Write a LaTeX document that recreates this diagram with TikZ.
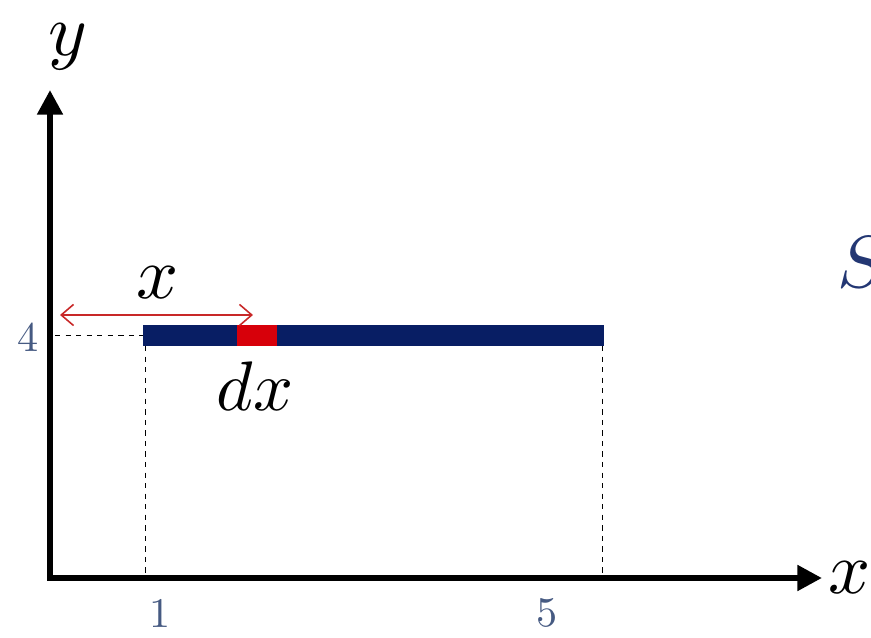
\documentclass[tikz,border=0pt]{standalone}
\usepackage{tikz}
\usetikzlibrary{arrows.meta,calc,positioning}
\definecolor{barblue}{RGB}{8,30,100}
\definecolor{barred}{RGB}{215,0,10}
\definecolor{arrred}{RGB}{200,40,40}
\definecolor{tickblue}{RGB}{70,90,130}
\definecolor{sblue}{RGB}{35,55,115}
\begin{document}
\begin{tikzpicture}

\tikzset{axis/.style = {line width=3.4pt,-{Triangle[length=14pt,width=14pt]}}}
\tikzset{guide/.style = {dash pattern=on 3pt off 3pt,line width=0.5pt}}
\tikzset{span/.style = {<->,line width=0.9pt,arrred,>={Straight Barb[length=7pt,width=12pt]}}}
\tikzset{big/.style = {inner sep=0pt,scale=4.2}}
\tikzset{tick/.style = {inner sep=0pt,tickblue,scale=2.4}}

\useasboundingbox (0,0) rectangle (17.42,12.74);

% axes
\coordinate (o) at (1,1.18);
\coordinate (ytip) at (1,10.94);
\coordinate (xtip) at (16.44,1.18);
\draw[axis] ([yshift=-1.7pt]o) -- (ytip);
\draw[axis] ([xshift=-1.7pt]o) -- (xtip);
\node[big] (ylab) at (1.36,11.8) {$y$};
\node[big] (xlab) at (17.0,1.18) {$x$};
\node[big,sblue] (s) at (17.25,7.5) {$S$};

% rod
\coordinate (a) at (2.86,6.03);
\coordinate (b) at (12.08,6.03);
\fill[barblue] (2.86,5.82) rectangle (12.08,6.24);
\fill[barred] (4.74,5.82) rectangle (5.54,6.24);
\node[big,scale=0.95] (dx) at (5.1,5.02) {$dx$};

% guides
\coordinate (y4) at (1.1,6.03);
\coordinate (x1) at (2.9,1.18);
\coordinate (x5) at (12.04,1.18);
\draw[guide] (y4) -- (a);
\draw[guide] (2.9,5.82) -- (x1);
\draw[guide] (12.04,5.82) -- (x5);
\node[tick] (four) at (0.56,6.0) {4};
\node[tick] (one) at (3.2,0.48) {1};
\node[tick] (five) at (10.94,0.48) {5};

% distance
\coordinate (l) at (1.2,6.44);
\coordinate (r) at (5.06,6.44);
\draw[span] (l) -- (r);
\node[big] (xdist) at (3.16,7.08) {$x$};

\end{tikzpicture}
\end{document}
